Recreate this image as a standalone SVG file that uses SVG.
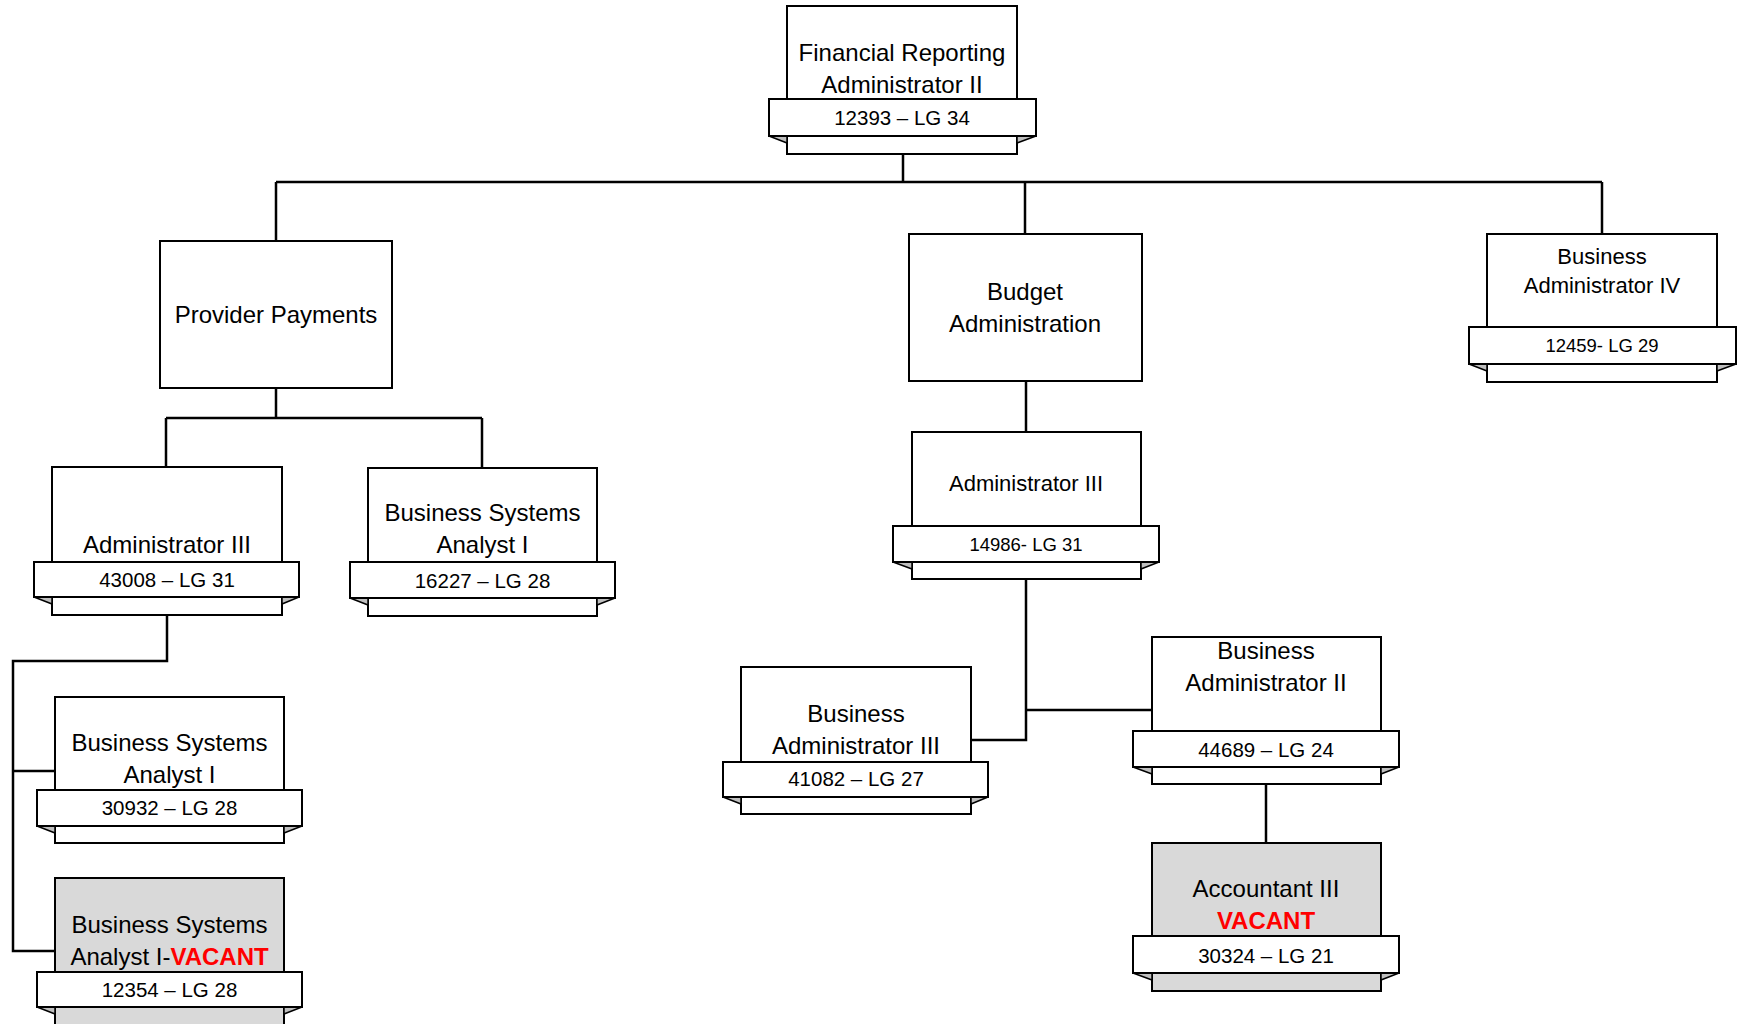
<svg xmlns="http://www.w3.org/2000/svg" width="1738" height="1024" viewBox="0 0 1738 1024">
<style>
.box{fill:#ffffff;stroke:#000;stroke-width:2}
.vac{fill:#d9d9d9;stroke:#000;stroke-width:2}
.ban{fill:#ffffff;stroke:#000;stroke-width:2}
.fold{fill:#bfbfbf;stroke:#000;stroke-width:1.5;stroke-linejoin:round}
.t{font-family:"Liberation Sans",Arial,sans-serif;font-size:24px;fill:#000;text-anchor:middle}
.ts{font-family:"Liberation Sans",Arial,sans-serif;font-size:22px;fill:#000;text-anchor:middle}
.b{font-family:"Liberation Sans",Arial,sans-serif;font-size:20.5px;fill:#000;text-anchor:middle}
.bs{font-family:"Liberation Sans",Arial,sans-serif;font-size:18.5px;fill:#000;text-anchor:middle}
.red{fill:#ff0000;font-weight:bold}
.conn{fill:none;stroke:#000;stroke-width:2.5}
</style>
<rect width="1738" height="1024" fill="#ffffff"/>
<g id="connectors" class="conn">
<path d="M903,154 V182 M276,182 H1602 M276,182 V241 M1025,182 V234 M1602,182 V234"/>
<path d="M276,388 V418 M166,418 H482 M166,418 V467 M482,418 V468"/>
<path d="M167,615 V661 H13 V951 H55 M13,771 H55"/>
<path d="M1026,381 V432"/>
<path d="M1026,579 V740 H971 M1026,710 H1152"/>
<path d="M1266,784 V843"/>
</g>
<g id="node-top">
<rect class="box" x="787" y="6" width="230" height="148"/>
<polygon class="fold" points="769,136 787,136 787,143"/>
<polygon class="fold" points="1036,136 1017,136 1017,143"/>
<rect class="ban" x="769" y="99" width="267" height="37"/>
<text class="t" x="902" y="61">Financial Reporting</text>
<text class="t" x="902" y="93">Administrator II</text>
<text class="b" x="902" y="125">12393 – LG 34</text>
</g>
<g id="node-provider">
<rect class="box" x="160" y="241" width="232" height="147"/>
<text class="t" x="276" y="323">Provider Payments</text>
</g>
<g id="node-budget">
<rect class="box" x="909" y="234" width="233" height="147"/>
<text class="t" x="1025" y="300">Budget</text>
<text class="t" x="1025" y="332">Administration</text>
</g>
<g id="node-ba4">
<rect class="box" x="1487" y="234" width="230" height="148"/>
<polygon class="fold" points="1469,364 1487,364 1487,371"/>
<polygon class="fold" points="1736,364 1717,364 1717,371"/>
<rect class="ban" x="1469" y="327" width="267" height="37"/>
<text class="ts" x="1602" y="264">Business</text>
<text class="ts" x="1602" y="293">Administrator IV</text>
<text class="bs" x="1602" y="352">12459- LG 29</text>
</g>
<g id="node-adm3-left">
<rect class="box" x="52" y="467" width="230" height="148"/>
<polygon class="fold" points="34,597 52,597 52,604"/>
<polygon class="fold" points="299,597 282,597 282,604"/>
<rect class="ban" x="34" y="562" width="265" height="35"/>
<text class="t" x="167" y="553">Administrator III</text>
<text class="b" x="167" y="587">43008 – LG 31</text>
</g>
<g id="node-bsa1-mid">
<rect class="box" x="368" y="468" width="229" height="148"/>
<polygon class="fold" points="350,598 368,598 368,605"/>
<polygon class="fold" points="615,598 597,598 597,605"/>
<rect class="ban" x="350" y="562" width="265" height="36"/>
<text class="t" x="482.5" y="521">Business Systems</text>
<text class="t" x="482.5" y="553">Analyst I</text>
<text class="b" x="482.5" y="588">16227 – LG 28</text>
</g>
<g id="node-bsa1-low">
<rect class="box" x="55" y="697" width="229" height="146"/>
<polygon class="fold" points="37,826 55,826 55,833"/>
<polygon class="fold" points="302,826 284,826 284,833"/>
<rect class="ban" x="37" y="790" width="265" height="36"/>
<text class="t" x="169.5" y="751">Business Systems</text>
<text class="t" x="169.5" y="783">Analyst I</text>
<text class="b" x="169.5" y="815">30932 – LG 28</text>
</g>
<g id="node-bsa1-vacant">
<rect class="vac" x="55" y="878" width="229" height="150"/>
<polygon class="fold" points="37,1007 55,1007 55,1014"/>
<polygon class="fold" points="302,1007 284,1007 284,1014"/>
<rect class="ban" x="37" y="972" width="265" height="35"/>
<text class="t" x="169.5" y="933">Business Systems</text>
<text class="t" x="169.5" y="965">Analyst I-<tspan class="red">VACANT</tspan></text>
<text class="b" x="169.5" y="997">12354 – LG 28</text>
</g>
<g id="node-adm3-center">
<rect class="box" x="912" y="432" width="229" height="147"/>
<polygon class="fold" points="893,562 912,562 912,569"/>
<polygon class="fold" points="1159,562 1141,562 1141,569"/>
<rect class="ban" x="893" y="526" width="266" height="36"/>
<text class="ts" x="1026" y="491">Administrator III</text>
<text class="bs" x="1026" y="551">14986- LG 31</text>
</g>
<g id="node-ba3">
<rect class="box" x="741" y="667" width="230" height="147"/>
<polygon class="fold" points="723,797 741,797 741,804"/>
<polygon class="fold" points="988,797 971,797 971,804"/>
<rect class="ban" x="723" y="762" width="265" height="35"/>
<text class="t" x="856" y="722">Business</text>
<text class="t" x="856" y="754">Administrator III</text>
<text class="b" x="856" y="786">41082 – LG 27</text>
</g>
<g id="node-ba2">
<rect class="box" x="1152" y="637" width="229" height="147"/>
<polygon class="fold" points="1133,767 1152,767 1152,774"/>
<polygon class="fold" points="1399,767 1381,767 1381,774"/>
<rect class="ban" x="1133" y="731" width="266" height="36"/>
<text class="t" x="1266" y="659">Business</text>
<text class="t" x="1266" y="691">Administrator II</text>
<text class="b" x="1266" y="757">44689 – LG 24</text>
</g>
<g id="node-acc3">
<rect class="vac" x="1152" y="843" width="229" height="148"/>
<polygon class="fold" points="1133,973 1152,973 1152,980"/>
<polygon class="fold" points="1399,973 1381,973 1381,980"/>
<rect class="ban" x="1133" y="936" width="266" height="37"/>
<text class="t" x="1266" y="897">Accountant III</text>
<text class="t red" x="1266" y="929">VACANT</text>
<text class="b" x="1266" y="963">30324 – LG 21</text>
</g>
</svg>
